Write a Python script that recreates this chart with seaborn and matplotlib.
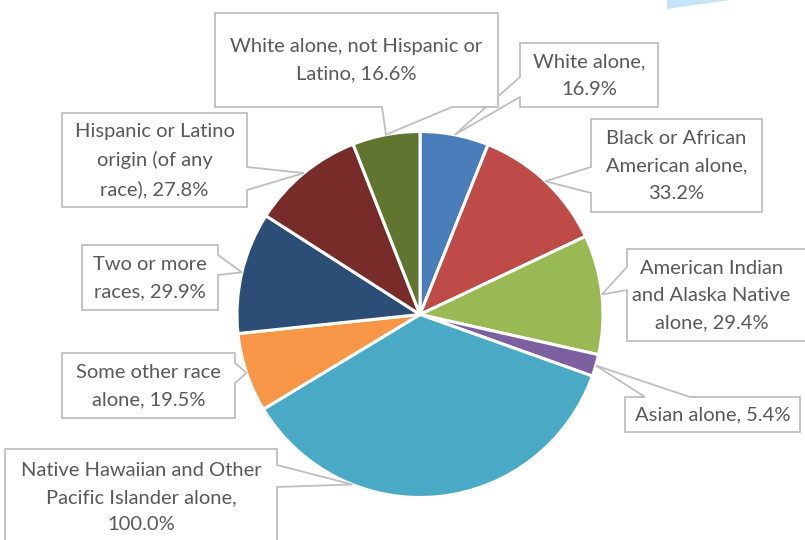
import numpy as np
import matplotlib
matplotlib.use("Agg")
import matplotlib.pyplot as plt
from matplotlib.patches import Polygon
import seaborn as sns

# data
groups = [
    "White alone",
    "Black or African American alone",
    "American Indian and Alaska Native alone",
    "Asian alone",
    "Native Hawaiian and Other Pacific Islander alone",
    "Some other race alone",
    "Two or more races",
    "Hispanic or Latino origin (of any race)",
    "White alone, not Hispanic or Latino",
]
pct = [16.9, 33.2, 29.4, 5.4, 100.0, 19.5, 29.9, 27.8, 16.6]
label_text = [
    "White alone,\n16.9%",
    "Black or African\nAmerican alone,\n33.2%",
    "American Indian\nand Alaska Native\nalone, 29.4%",
    "Asian alone, 5.4%",
    "Native Hawaiian and Other\nPacific Islander alone,\n100.0%",
    "Some other race\nalone, 19.5%",
    "Two or more\nraces, 29.9%",
    "Hispanic or Latino\norigin (of any\nrace), 27.8%",
    "White alone, not Hispanic or\nLatino, 16.6%",
]
colors = ["#4a7ebb", "#be4b48", "#98b954", "#7d60a0", "#4aaac5",
          "#f79646", "#2c4d75", "#772c2a", "#5f7530"]

# callout layout in pixel units (y downwards): box, side, pointer base, anchor fraction
callouts = [
    ((520, 43, 658, 107), "left", (77, 97), 0.5),
    ((591, 119, 762, 212), "left", (167, 193), 0.5),
    ((627, 249, 812, 341), "left", (267, 290), 0.5),
    ((625, 397, 800, 432), "top", (645, 690), 0.5),
    ((5, 449, 277, 545), "right", (465, 487), 0.713),
    ((62, 353, 235, 418), "right", (363, 383), 0.5),
    ((82, 245, 218, 310), "right", (255, 275), 0.5),
    ((62, 113, 247, 207), "right", (167, 190), 0.5),
    ((215, 13, 498, 107), "bottom", (382, 452), 0.5),
]

W, H = 805, 540
cx, cy, R = 420, 314.5, 183

sns.set_theme(style="white")
plt.rcParams["font.family"] = ["Lato", "DejaVu Sans"]

fig = plt.figure(figsize=(W / 100, H / 100), dpi=100)
ax = fig.add_axes([0, 0, 1, 1])
ax.set_xlim(0, W)
ax.set_ylim(0, H)
ax.set_aspect("equal")
ax.axis("off")

wedges, _ = ax.pie(pct, colors=colors, startangle=90, counterclock=False,
                   center=(cx, H - cy), radius=R,
                   wedgeprops=dict(edgecolor="white", linewidth=2.2))
ax.set_xlim(0, W)
ax.set_ylim(0, H)

def fy(y):
    return H - y

for w, txt, (box, side, base, frac) in zip(wedges, label_text, callouts):
    # anchor point on the wedge rim
    t1, t2 = w.theta1, w.theta2
    ang = np.deg2rad(t2 - frac * (t2 - t1))
    tx = cx + R * np.cos(ang)
    ty = cy - R * np.sin(ang)
    x0, y0, x1, y1 = box
    a, b = base
    pts = [(x0, y0)]
    if side == "top":
        pts += [(a, y0), (tx, ty), (b, y0)]
    pts += [(x1, y0)]
    if side == "right":
        pts += [(x1, a), (tx, ty), (x1, b)]
    pts += [(x1, y1)]
    if side == "bottom":
        pts += [(b, y1), (tx, ty), (a, y1)]
    pts += [(x0, y1)]
    if side == "left":
        pts += [(x0, b), (tx, ty), (x0, a)]
    poly = Polygon([(px, fy(py)) for px, py in pts], closed=True,
                   facecolor="white", edgecolor="#bfbfbf", linewidth=1.3,
                   zorder=3, clip_on=False)
    ax.add_patch(poly)
    tcx = (x0 + x1) / 2
    if x1 > W:
        tcx -= 8
    ax.text(tcx, fy((y0 + y1) / 2 + 0.5), txt, ha="center", va="center",
            fontsize=14.5, color="#595959", linespacing=1.72, zorder=4)

# light blue shape peeking in at the top edge
ax.add_patch(Polygon([(667, fy(0)), (730, fy(0)), (667, fy(9))],
                     closed=True, facecolor="#c6e4f8", edgecolor="none"))

fig.savefig("out.png", dpi=100)
